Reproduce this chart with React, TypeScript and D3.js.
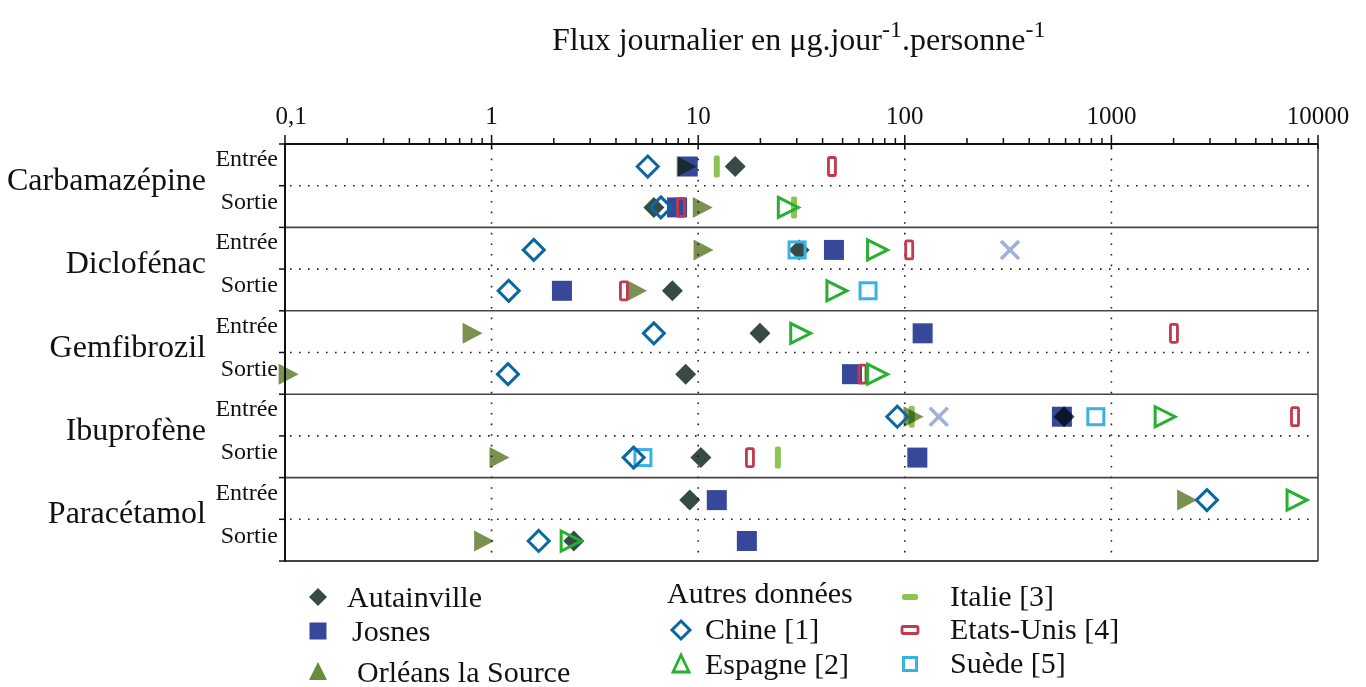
import React from "react";
import * as d3 from "d3";

// Rows: [Carb E, Carb S, Diclo E, Diclo S, Gemf E, Gemf S, Ibu E, Ibu S, Para E, Para S]
const drugs = ["Carbamazépine", "Diclofénac", "Gemfibrozil", "Ibuprofène", "Paracétamol"];
const rowLabels = ["Entrée", "Sortie"];
const tickValues = [0.1, 1, 10, 100, 1000, 10000];
const tickLabels = ["0,1", "1", "10", "100", "1000", "10000"];

const autainville = [15.1, 6.1, 30.8, 7.5, 19.9, 8.7, 590, 10.3, 9.1, 2.5];
const josnes = [8.9, 7.9, 45.4, 2.19, 122, 55.5, 576, 115, 12.3, 17.2];
const orleans = [8.7, 10.4, 10.5, 5.0, 0.8, 0.103, 109, 1.08, 2300, 0.91];
const chine = [5.7, 6.6, 1.6, 1.21, 6.1, 1.2, 92, 4.87, 2900, 1.69];
const espagne = [null, 27, 73, 46.4, 31, 73, 1800, null, 7830, 2.4];
const italie = [12.3, 29.1, null, null, null, null, 108, 24.3, null, null];
const etatsUnis = [44.4, 8.26, 105, 4.37, 2008, 62.4, 7740, 17.8, null, null];
const suede = [null, null, 30.1, 66.4, null, null, 841, 5.4, null, null];
const autre = [null, null, 323, null, null, null, 146, null, null, null];

const C = {
  aut: "#364b45",
  jos: "#37489a",
  orl: "#7b9152",
  chi: "#0b67a0",
  esp: "#27b030",
  ita: "#8dc450",
  usa: "#c23a4b",
  sue: "#38b2e3",
  x: "#9fb2d5",
};

const FONT = "'Liberation Serif', 'Times New Roman', serif";

const W = 1366, H = 687;
const X0 = 285, X1 = 1318;
const Y0 = 144, Y1 = 561;

function Marker({ type, x, y, legend = false }: { type: string; x: number; y: number; legend?: boolean }) {
  const mb: any = { mixBlendMode: "multiply" };
  switch (type) {
    case "aut": {
      const r = legend ? 9 : 10.5;
      return <path d={`M${x},${y - r}L${x + r},${y}L${x},${y + r}L${x - r},${y}Z`} fill={C.aut} style={mb} />;
    }
    case "jos": {
      const s = legend ? 17 : 20;
      return <rect x={x - s / 2} y={y - s / 2} width={s} height={s} fill={C.jos} style={mb} />;
    }
    case "orl": {
      if (legend) {
        return <path d={`M${x},${y - 9}L${x + 9},${y + 9}L${x - 9},${y + 9}Z`} fill="#6b8a3a" />;
      }
      return <path d={`M${x - 9},${y - 10.5}L${x + 11},${y}L${x - 9},${y + 10.5}Z`} fill={C.orl} style={mb} />;
    }
    case "chi": {
      const r = legend ? 9 : 10.5;
      return <path d={`M${x},${y - r}L${x + r},${y}L${x},${y + r}L${x - r},${y}Z`} fill="none" stroke={C.chi} strokeWidth={3} />;
    }
    case "esp": {
      if (legend) {
        return <path d={`M${x},${y - 9}L${x + 8},${y + 8}L${x - 8},${y + 8}Z`} fill="none" stroke={C.esp} strokeWidth={2.8} />;
      }
      return <path d={`M${x - 9},${y - 10}L${x + 11},${y}L${x - 9},${y + 10}Z`} fill="none" stroke={C.esp} strokeWidth={3} />;
    }
    case "ita": {
      if (legend) return <rect x={x - 8} y={y - 3} width={16} height={6} rx={2} fill={C.ita} />;
      return <rect x={x - 3} y={y - 11} width={6} height={22} rx={2} fill={C.ita} style={mb} />;
    }
    case "usa": {
      if (legend) return <rect x={x - 8} y={y - 3.5} width={16} height={7} rx={1.5} fill="none" stroke={C.usa} strokeWidth={2.8} />;
      return <rect x={x - 3.5} y={y - 9} width={7} height={18} rx={1.5} fill="none" stroke={C.usa} strokeWidth={2.8} />;
    }
    case "sue": {
      const s = legend ? 13 : 16;
      return <rect x={x - s / 2} y={y - s / 2} width={s} height={s} fill="none" stroke={C.sue} strokeWidth={3} />;
    }
    case "x": {
      const r = 9;
      return (
        <g stroke={C.x} strokeWidth={3.5}>
          <line x1={x - r} y1={y - r} x2={x + r} y2={y + r} />
          <line x1={x - r} y1={y + r} x2={x + r} y2={y - r} />
        </g>
      );
    }
  }
  return null;
}

export default function App() {
  const x = d3.scaleLog().domain([0.1, 10000]).range([X0, X1]);
  const band = d3.scaleBand<number>().domain(d3.range(drugs.length)).range([Y0, Y1]).padding(0);
  const bh = band.bandwidth();
  const rowY = (i: number) => {
    const b = band(Math.floor(i / 2))!;
    return i % 2 === 0 ? b + bh * 0.27 : b + bh * 0.76;
  };

  const series: { key: string; values: (number | null)[] }[] = [
    { key: "jos", values: josnes },
    { key: "aut", values: autainville },
    { key: "orl", values: orleans },
    { key: "sue", values: suede },
    { key: "usa", values: etatsUnis },
    { key: "ita", values: italie },
    { key: "esp", values: espagne },
    { key: "chi", values: chine },
    { key: "x", values: autre },
  ];

  const minorTicks: number[] = [];
  for (let e = -1; e < 4; e++) for (let m = 2; m <= 9; m++) minorTicks.push(m * Math.pow(10, e));

  return (
    <svg width={W} height={H} style={{ display: "block", position: "absolute", left: 0, top: 0, background: "#fff" }} fontFamily={FONT}>
      {/* title */}
      <text x={552} y={50} fontSize={32} fill="#111">
        Flux journalier en μg.jour<tspan dy={-13} fontSize={24}>-1</tspan>
        <tspan dy={13}>.personne</tspan>
        <tspan dy={-13} fontSize={24}>-1</tspan>
      </text>

      {/* vertical dotted grid */}
      {tickValues.slice(1, -1).map((v) => (
        <line key={"vg" + v} x1={x(v)} x2={x(v)} y1={Y0 + 4} y2={Y1} stroke="#222" strokeWidth={1.6} strokeDasharray="1.6 9" />
      ))}
      {/* horizontal dotted mid lines */}
      {drugs.map((_, i) => (
        <line key={"hm" + i} x1={X0 + 5} x2={X1 - 4} y1={band(i)! + bh / 2} y2={band(i)! + bh / 2} stroke="#222" strokeWidth={1.6} strokeDasharray="1.6 7.4" />
      ))}
      {/* band separators */}
      {drugs.slice(1).map((_, i) => (
        <line key={"bs" + i} x1={X0} x2={X1} y1={band(i + 1)!} y2={band(i + 1)!} stroke="#444" strokeWidth={1.6} />
      ))}
      {/* frame */}
      <line x1={X1} x2={X1} y1={Y0} y2={Y1} stroke="#444" strokeWidth={1.6} />
      <line x1={X0} x2={X1} y1={Y1} y2={Y1} stroke="#444" strokeWidth={1.8} />
      <line x1={X0} x2={X0} y1={Y0} y2={Y1 + 1} stroke="#111" strokeWidth={2} />
      <line x1={X0} x2={X1} y1={Y0} y2={Y0} stroke="#111" strokeWidth={2} />

      {/* top axis ticks */}
      {minorTicks.map((v, i) => (
        <line key={"mt" + i} x1={x(v)} x2={x(v)} y1={Y0} y2={Y0 - 6} stroke="#111" strokeWidth={1.5} />
      ))}
      {tickValues.map((v) => (
        <line key={"Mt" + v} x1={x(v)} x2={x(v)} y1={Y0 + 5} y2={Y0 - 9} stroke="#111" strokeWidth={1.5} />
      ))}
      {tickValues.map((v, i) => (
        <text key={"tl" + v} x={x(v) + (i === 0 ? 6 : 0)} y={Y0 - 20} fontSize={25} textAnchor="middle" fill="#111">
          {tickLabels[i]}
        </text>
      ))}

      {/* left axis ticks */}
      {d3.range(drugs.length * 2 + 1).map((k) => (
        <line key={"lt" + k} x1={X0 - 6} x2={X0} y1={Y0 + (k * bh) / 2} y2={Y0 + (k * bh) / 2} stroke="#111" strokeWidth={1.5} />
      ))}

      {/* drug labels */}
      {drugs.map((d, i) => (
        <text key={d} x={206} y={band(i)! + bh / 2 + 4} fontSize={32} textAnchor="end" fill="#111">
          {d}
        </text>
      ))}
      {drugs.map((d, i) => (
        <g key={"rl" + d}>
          <text x={278} y={band(i)! + 22} fontSize={24} textAnchor="end" fill="#111">{rowLabels[0]}</text>
          <text x={278} y={band(i)! + 65} fontSize={24} textAnchor="end" fill="#111">{rowLabels[1]}</text>
        </g>
      ))}

      {/* markers */}
      {series.map((s) =>
        s.values.map((v, i) =>
          v == null ? null : <Marker key={s.key + i} type={s.key} x={x(v)} y={rowY(i)} />
        )
      )}

      {/* legend */}
      <g fontSize={30} fill="#111">
        <Marker type="aut" x={318} y={597} legend />
        <text x={347} y={607}>Autainville</text>
        <Marker type="jos" x={318} y={631} legend />
        <text x={352} y={641}>Josnes</text>
        <Marker type="orl" x={318} y={671} legend />
        <text x={357} y={682}>Orléans la Source</text>

        <text x={667} y={603}>Autres données</text>
        <Marker type="chi" x={681} y={630} legend />
        <text x={705} y={639}>Chine [1]</text>
        <Marker type="esp" x={681} y={664} legend />
        <text x={705} y={674}>Espagne [2]</text>

        <Marker type="ita" x={910} y={597} legend />
        <text x={950} y={606}>Italie [3]</text>
        <Marker type="usa" x={910} y={630} legend />
        <text x={950} y={639}>Etats-Unis [4]</text>
        <Marker type="sue" x={910} y={664} legend />
        <text x={950} y={673}>Suède [5]</text>
      </g>
    </svg>
  );
}
